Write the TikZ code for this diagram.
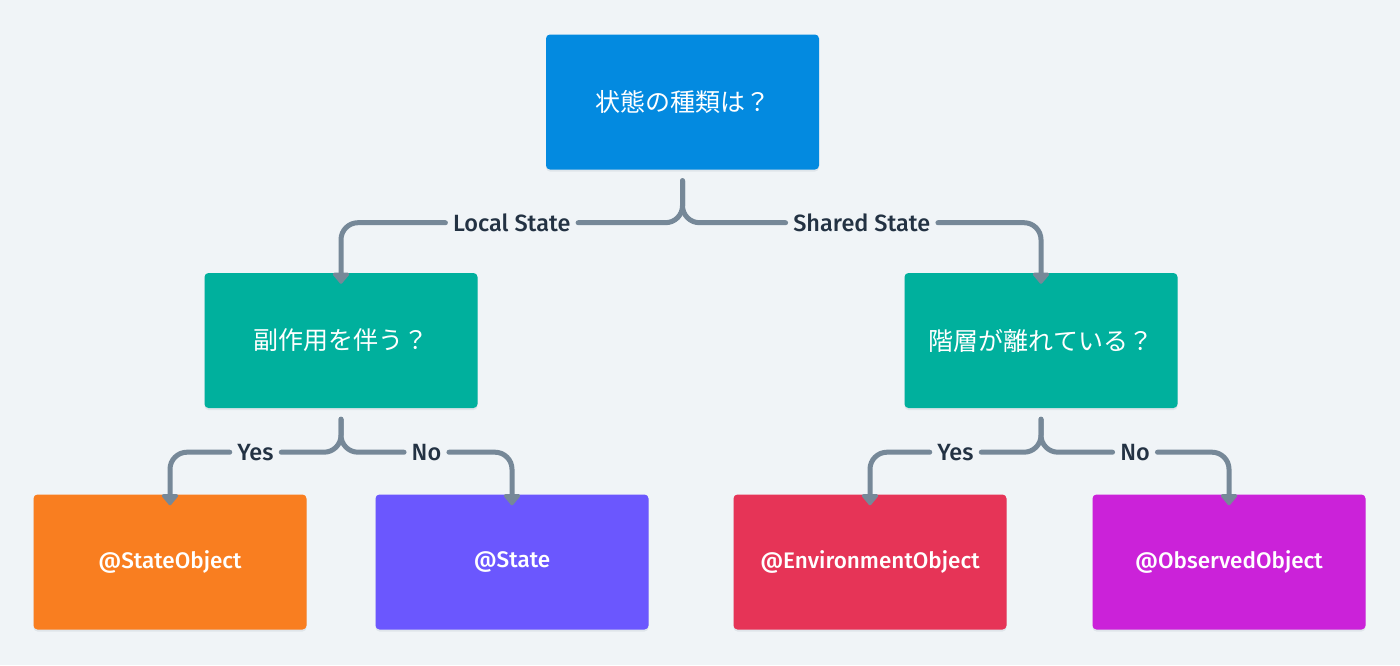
\documentclass[tikz,border=0pt]{standalone}
\usepackage{fontspec}
\setmainfont{Fira Sans}
\newfontfamily\medfont{Fira Sans Medium}
\newfontfamily\jpfont{Noto Sans CJK JP}
\usetikzlibrary{arrows.meta}
\definecolor{bgc}{HTML}{F0F4F7}
\definecolor{linec}{HTML}{768898}
\definecolor{labc}{HTML}{233243}
\definecolor{cblue}{HTML}{038AE0}
\definecolor{cteal}{HTML}{00B09D}
\definecolor{corange}{HTML}{F97E20}
\definecolor{cpurple}{HTML}{6B57FE}
\definecolor{cred}{HTML}{E63457}
\definecolor{cmag}{HTML}{CB22D9}
\definecolor{shc}{HTML}{D5DCE2}
\tikzset{
  box/.style={rectangle, rounded corners=4pt, minimum width=273pt, minimum height=135pt,
    text=white, inner sep=0pt,
    preaction={fill=shc, opacity=0.6, transform canvas={yshift=-2pt}}},
  qbox/.style={box, font=\jpfont\fontsize{25}{29}\selectfont},
  abox/.style={box, font=\medfont\fontsize{22.5}{26}\selectfont},
  wire/.style={draw=linec, line width=5pt, line cap=round, line join=round, rounded corners=17pt},
  conn/.style={wire, -{Triangle[width=19pt,length=12pt,round]}},
  lab/.style={text=labc, inner xsep=7.5pt, inner ysep=2pt, font=\medfont\fontsize{23.5}{26}\selectfont}
}
\begin{document}
\begin{tikzpicture}[x=1pt,y=1pt]
\useasboundingbox[fill=bgc] (0,0) rectangle (1400,-665);
\node[qbox, fill=cblue] (top) at (682.5,-102) {状態の種類は？};
\node[qbox, fill=cteal] (lm) at (341,-340.5) {副作用を伴う？};
\node[qbox, fill=cteal] (rm) at (1041,-340.5) {階層が離れている？};
\node[abox, fill=corange] (so) at (170,-562) {@StateObject};
\node[abox, fill=cpurple] (st) at (512,-562) {@State};
\node[abox, fill=cred] (eo) at (870,-562) {@EnvironmentObject};
\node[abox, fill=cmag] (oo) at (1229,-562) {@ObservedObject};
% start / end points of connectors
\coordinate (ts) at ([yshift=-11pt]top.south);
\coordinate (ls) at ([yshift=-11pt]lm.south);
\coordinate (rs) at ([yshift=-11pt]rm.south);
\coordinate (lme) at ([yshift=-11pt]lm.north);
\coordinate (rme) at ([yshift=-11pt]rm.north);
\coordinate (soe) at ([yshift=-11pt]so.north);
\coordinate (ste) at ([yshift=-11pt]st.north);
\coordinate (eoe) at ([yshift=-11pt]eo.north);
\coordinate (ooe) at ([yshift=-11pt]oo.north);
% labels
\path (ts) -- ++(0,-42) -| node[lab,pos=0.25] (l1) {Local State} (lme);
\path (ts) -- ++(0,-42) -| node[lab,pos=0.25] (l2) {Shared State} (rme);
\path (ls) -- ++(0,-33) -| node[lab,pos=0.25] (l3) {Yes} (soe);
\path (ls) -- ++(0,-33) -| node[lab,pos=0.25] (l4) {No} (ste);
\path (rs) -- ++(0,-33) -| node[lab,pos=0.25] (l5) {Yes} (eoe);
\path (rs) -- ++(0,-33) -| node[lab,pos=0.25] (l6) {No} (ooe);
% connectors
\draw[wire] (ts) |- (l1.east);
\draw[conn] (l1.west) -| (lme);
\draw[wire] (ts) |- (l2.west);
\draw[conn] (l2.east) -| (rme);
\draw[wire] (ls) |- (l3.east);
\draw[conn] (l3.west) -| (soe);
\draw[wire] (ls) |- (l4.west);
\draw[conn] (l4.east) -| (ste);
\draw[wire] (rs) |- (l5.east);
\draw[conn] (l5.west) -| (eoe);
\draw[wire] (rs) |- (l6.west);
\draw[conn] (l6.east) -| (ooe);
\end{tikzpicture}
\end{document}
